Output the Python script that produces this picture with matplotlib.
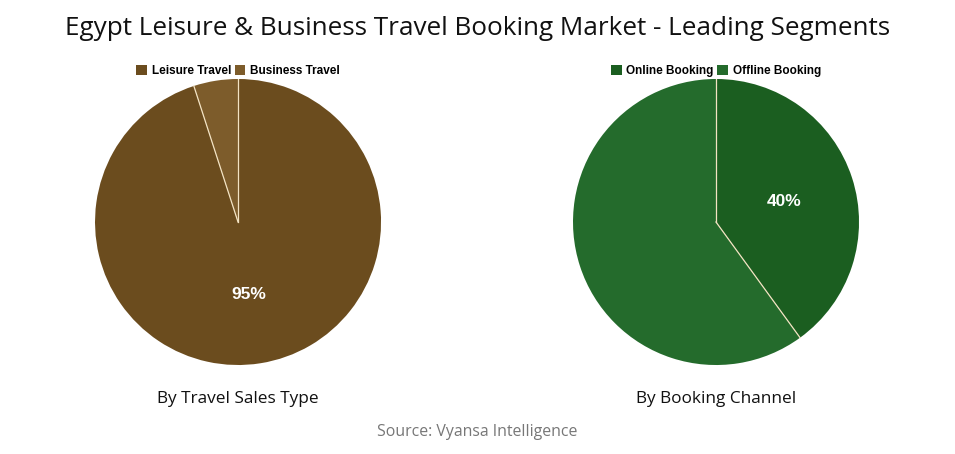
import numpy as np
import matplotlib.pyplot as plt
from matplotlib.patches import Patch

# ===== DATA =====
sales_labels = ['Leisure Travel', 'Business Travel']
sales_values = [95, 5]
sales_colors = ['#6B4C1E', '#7D5C2B']

channel_labels = ['Online Booking', 'Offline Booking']
channel_values = [40, 60]
channel_colors = ['#1B5E20', '#246B2C']

edge = '#F3E3C3'

# ===== FIGURE =====
fig = plt.figure(figsize=(9.55, 4.54), dpi=100)
fig.patch.set_facecolor('white')

fig.text(0.5, 0.937, 'Egypt Leisure & Business Travel Booking Market - Leading Segments',
         ha='center', va='center', fontsize=18.8, family='Open Sans', color='#111111')


def draw_pie(left, values, labels, colors, show_idx, subtitle):
    ax = fig.add_axes([left, 0.196, 0.2995, 0.63])
    ax.pie(values, colors=colors, startangle=90, counterclock=False,
           radius=1, wedgeprops=dict(linewidth=0))
    # separators + percentage label on the chosen slice
    total = sum(values)
    start = 90.0
    for i, v in enumerate(values):
        span = 360.0 * v / total
        a0 = np.deg2rad(start)
        ax.plot([0, np.cos(a0)], [0, np.sin(a0)], color=edge, lw=0.9)
        mid = np.deg2rad(start - span / 2)
        if i == show_idx:
            ax.text(0.5 * np.cos(mid), 0.5 * np.sin(mid) - 0.01, f'{v}%', ha='center', va='center',
                    color='white', fontsize=12.5, fontweight='bold', family='Liberation Sans')
        start -= span
    ax.set_xlim(-1, 1)
    ax.set_ylim(-1, 1)
    ax.set_aspect('equal')
    ax.axis('off')

    cx = left + 0.2995 / 2
    handles = [Patch(facecolor=c, edgecolor='none') for c in colors]
    fig.legend(handles, labels, loc='center', bbox_to_anchor=(cx, 0.843), ncol=2, frameon=False,
               prop={'family': 'Liberation Sans', 'weight': 'bold', 'size': 8.5},
               handlelength=0.9, handleheight=0.9, handletextpad=0.4, columnspacing=0.3)
    fig.text(cx, 0.121, subtitle, ha='center', va='center', fontsize=12.4,
             family='Open Sans', color='#111111')


draw_pie(0.0995, sales_values, sales_labels, sales_colors, 0, 'By Travel Sales Type')
draw_pie(0.6, channel_values, channel_labels, channel_colors, 0, 'By Booking Channel')

fig.text(0.5, 0.049, 'Source: Vyansa Intelligence', ha='center', va='center',
         fontsize=11.4, family='Open Sans', color='#777777')

fig.savefig('out.png', dpi=100, facecolor='white')
